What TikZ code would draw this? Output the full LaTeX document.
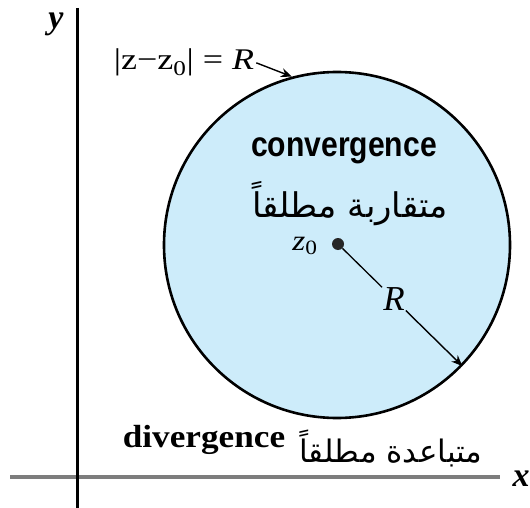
\documentclass[tikz,border=0pt]{standalone}
\usepackage{graphicx}
\usepackage{fontspec}
\setmainfont{Liberation Serif}
\newfontfamily\sansfnt{Liberation Sans}
\newfontfamily\arabicfont[Script=Arabic]{DejaVu Sans}
\TeXXeTstate=1
\usetikzlibrary{arrows.meta,calc}
\definecolor{discblue}{RGB}{205,236,250}
\definecolor{axisgray}{RGB}{125,125,125}
\tikzset{
  axisline/.style={line width=3pt},
  txt/.style={inner sep=1pt, anchor=base},
  arrowline/.style={line width=1.4pt, -{Stealth[length=11pt,width=9pt]}},
}
\begin{document}
\begin{tikzpicture}[x=1pt,y=-1pt]
\useasboundingbox (0,0) rectangle (530,508);
\fill[white] (0,0) rectangle (530,508);
% axes
\coordinate (xl) at (10,477);
\coordinate (xr) at (500,477);
\coordinate (yt) at (77,8);
\coordinate (yb) at (77,508);
\draw[axisline, axisgray, line width=3.5pt] (xl) -- (xr);
\draw[axisline, black] (yt) -- (yb);
\node[inner sep=0] (ylab) at (56,24) {\fontsize{34}{36}\selectfont\textit{\textbf{y}}};
\node[inner sep=0] (xlab) at (521,479) {\fontsize{34}{36}\selectfont\textit{\textbf{x}}};
% disc
\node[circle, draw, line width=2.6pt, fill=discblue, minimum size=346pt, inner sep=0] (disc) at (337,245) {};
\node[circle, fill=black!85, minimum size=12pt, inner sep=0] (z0) at (338,244) {};
% texts inside
\node[txt] (conv) at (344,157) {\scalebox{0.86}[1]{\fontsize{35}{38}\selectfont\sansfnt\bfseries convergence}};
\node[txt] (convar) at (350,217) {\fontsize{34}{38}\selectfont\arabicfont\beginR متقاربة مطلقاً\endR};
\node[txt] (z0lab) at (305,250) {\scalebox{1.15}[1]{\fontsize{29}{32}\selectfont\textit{z}\textsubscript{0}}};
\node[inner sep=1pt] (Rlab) at ($(z0)!0.45!(disc.-44)$) {\fontsize{35}{38}\selectfont\textit{R}};
\draw[line width=1.3pt] (z0) -- (Rlab);
\draw[arrowline] (Rlab) -- (disc.-44);
% boundary label
\node[txt, inner sep=2pt] (blab) at (184,70) {\scalebox{1.2}[1]{\fontsize{30}{32}\selectfont |z−z\textsubscript{0}| = \textit{R}}};
\draw[arrowline] (blab.east) -- (disc.105.5);
% outside texts
\node[txt] (div) at (204,447) {\scalebox{1.1}[1]{\fontsize{32}{34}\selectfont\bfseries divergence}};
\node[txt] (divar) at (391,462) {\fontsize{31}{34}\selectfont\arabicfont\beginR متباعدة مطلقاً\endR};
\end{tikzpicture}
\end{document}
